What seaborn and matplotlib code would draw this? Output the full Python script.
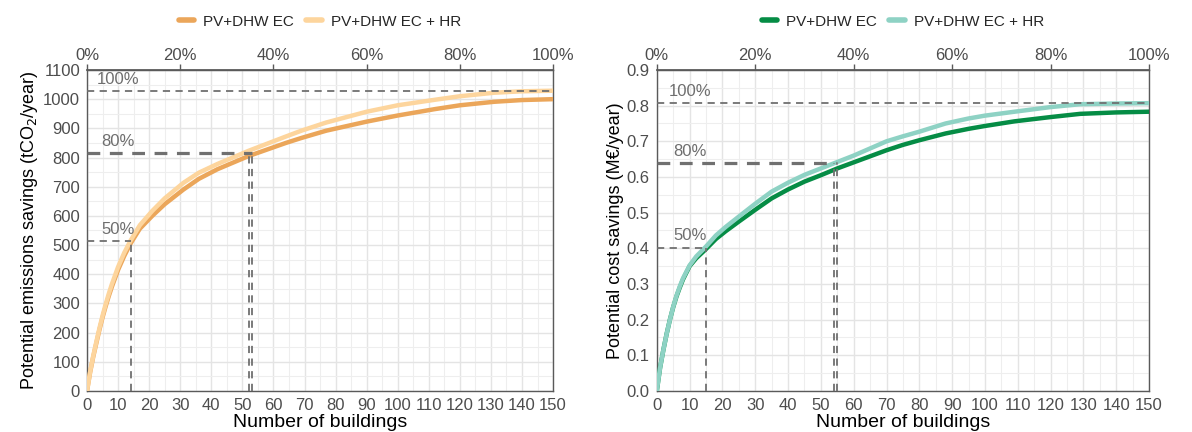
import numpy as np
import pandas as pd
import matplotlib
matplotlib.use("Agg")
import matplotlib.pyplot as plt
import seaborn as sns
from matplotlib.ticker import MultipleLocator, FuncFormatter

sns.set_theme(style="white")
plt.rcParams['font.family'] = ['Liberation Sans', 'DejaVu Sans']

# ---------------- data ----------------
series_names = ["PV+DHW EC", "PV+DHW EC + HR"]

em_x = [0, 1, 2, 3, 4, 5, 6, 7, 8, 10, 12, 14, 17, 21, 25, 31, 36, 42, 52, 64, 69, 77, 90, 100, 112, 120, 131, 140, 150]
em_ec = [0, 64, 117, 164, 210, 252, 290, 325, 357, 415, 463, 505, 556, 600, 640, 690, 727, 760, 805, 850, 867, 892, 923, 944, 966, 979, 991, 997, 1000]
em_hr = [0, 66, 120, 168, 215, 258, 297, 333, 366, 425, 474, 515, 568, 617, 660, 713, 748, 778, 823, 872, 892, 920, 957, 979, 998, 1010, 1022, 1027, 1029]

co_x = [0, 1, 2, 3, 4, 5, 6, 7, 8, 10, 12, 15, 18, 21, 25, 30, 35, 40, 45, 50, 55, 60, 65, 70, 75, 80, 88, 95, 100, 109, 120, 129, 140, 150]
co_ec = [0, 0.065, 0.115, 0.160, 0.200, 0.235, 0.265, 0.290, 0.313, 0.350, 0.372, 0.398, 0.426, 0.448, 0.475, 0.508, 0.540, 0.565, 0.587, 0.605, 0.624, 0.641, 0.658, 0.675, 0.690, 0.703, 0.722, 0.735, 0.743, 0.756, 0.768, 0.777, 0.781, 0.783]
co_hr = [0, 0.065, 0.115, 0.160, 0.200, 0.236, 0.267, 0.293, 0.316, 0.352, 0.377, 0.405, 0.436, 0.460, 0.489, 0.525, 0.559, 0.584, 0.606, 0.624, 0.642, 0.660, 0.680, 0.700, 0.714, 0.727, 0.750, 0.764, 0.772, 0.783, 0.796, 0.804, 0.806, 0.807]

# reference levels: (label, y, [x crossings])
em_refs = [("100%", 1029, []), ("80%", 815, [52, 53]), ("50%", 513, [14])]
co_refs = [("100%", 0.807, []), ("80%", 0.638, [54, 55]), ("50%", 0.402, [15])]

pct_ticks = [0, 20, 40, 60, 80, 100]

em_colors = ["#EBA65A", "#FDD59D"]
co_colors = ["#058C45", "#8ED2C4"]

# ---------------- figure ----------------
fig = plt.figure(figsize=(11.92, 4.32), dpi=100)
ax1 = fig.add_axes([0.073, 0.095, 0.391, 0.743])
ax2 = fig.add_axes([0.551, 0.095, 0.413, 0.743])

GRAY = "#5a5a5a"
DASH = "#707070"
TICKC = "#4d4d4d"
TS = 12


def build_df(x, a, b):
    return pd.DataFrame({
        "x": list(x) + list(x),
        "y": list(a) + list(b),
        "series": [series_names[0]] * len(x) + [series_names[1]] * len(x),
    })


def style_axis(ax, ymax, ymajor, yminor, yfmt):
    ax.set_xlim(0, 150)
    ax.set_ylim(0, ymax)
    ax.xaxis.set_major_locator(MultipleLocator(10))
    ax.xaxis.set_minor_locator(MultipleLocator(5))
    ax.yaxis.set_major_locator(MultipleLocator(ymajor))
    ax.yaxis.set_minor_locator(MultipleLocator(yminor))
    ax.yaxis.set_major_formatter(FuncFormatter(yfmt))
    ax.grid(True, which="major", color="#e4e4e4", linewidth=1.0)
    ax.grid(True, which="minor", color="#eeeeee", linewidth=0.8)
    ax.set_axisbelow(True)
    for s in ax.spines.values():
        s.set_color(GRAY)
        s.set_linewidth(1.0)
        s.set_visible(True)
    ax.tick_params(which="major", direction="out", length=4, width=1.0,
                   color=GRAY, labelcolor=TICKC, labelsize=TS, pad=1)
    ax.tick_params(which="minor", length=0)
    ax.set_xlabel("Number of buildings", fontsize=14, color="black", labelpad=1)
    sec = ax.secondary_xaxis("top", functions=(lambda v: v / 1.5, lambda p: p * 1.5))
    sec.set_xticks(pct_ticks)
    sec.set_xticklabels([f"{p}%" for p in pct_ticks])
    sec.tick_params(direction="out", length=4, width=1.0, color=GRAY,
                    labelcolor=TICKC, labelsize=TS, pad=1)
    sec.spines["top"].set_color(GRAY)


def draw_refs(ax, refs, dy):
    for label, yv, xs in refs:
        if not xs:
            ax.plot([0, 150], [yv, yv], ls=(0, (4, 3)), color=DASH, lw=1.3, zorder=5)
        else:
            lw = 2.3 if len(xs) > 1 else 1.3
            ax.plot([0, max(xs)], [yv, yv], ls=(0, (4, 3)), color=DASH, lw=lw, zorder=5)
            for xv in xs:
                ax.plot([xv, xv], [0, yv], ls=(0, (4, 3)), color=DASH, lw=1.3, zorder=5)
        ax.text(10, yv + dy, label, color="#6e6e6e", fontsize=TS, va="bottom", ha="center", zorder=6)


# left panel
df1 = build_df(em_x, em_ec, em_hr)
sns.lineplot(data=df1, x="x", y="y", hue="series", palette=em_colors, lw=3.2,
             ax=ax1, legend=True, zorder=3)
style_axis(ax1, 1100, 100, 50, lambda v, p: f"{v:.0f}")
draw_refs(ax1, em_refs, 14)
ax1.set_ylabel("Potential emissions savings (tCO$_2$/year)", fontsize=13, color="black", labelpad=2)

# right panel
df2 = build_df(co_x, co_ec, co_hr)
sns.lineplot(data=df2, x="x", y="y", hue="series", palette=co_colors, lw=3.2,
             ax=ax2, legend=True, zorder=3)
style_axis(ax2, 0.9, 0.1, 0.05, lambda v, p: f"{v:.1f}")
draw_refs(ax2, co_refs, 0.012)
ax2.set_ylabel("Potential cost savings (M€/year)", fontsize=13, color="black", labelpad=2)

for ax in (ax1, ax2):
    leg = ax.legend(loc="center", bbox_to_anchor=(0.5, 1.15), ncol=2, frameon=False,
                    fontsize=11, handlelength=1.0, handletextpad=0.6, columnspacing=0.8,
                    title=None)
    for h in leg.get_lines():
        h.set_linewidth(4)

fig.savefig("out.png", dpi=100)
